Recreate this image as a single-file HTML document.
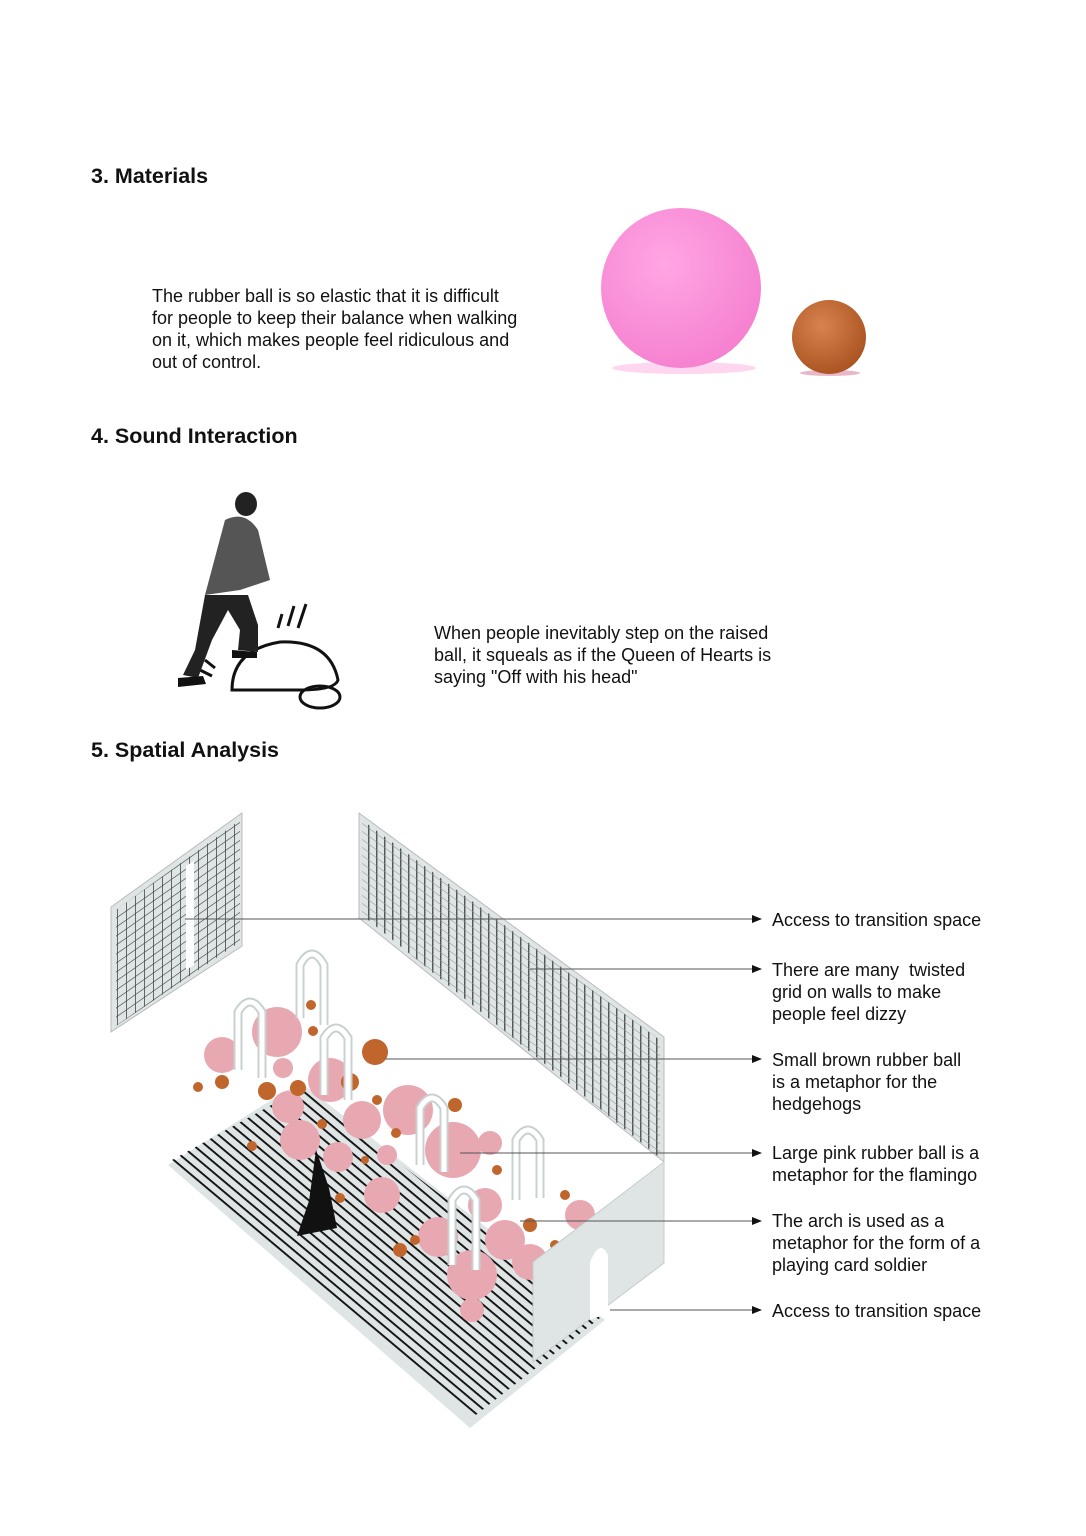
<!DOCTYPE html>
<html><head><meta charset="utf-8"><style>
body{margin:0;background:#fff;width:1086px;height:1536px;position:relative;overflow:hidden;font-family:"Liberation Sans",Arial,sans-serif;color:#111}
.h{position:absolute;left:91px;font-weight:bold;font-size:21.5px}
.p{position:absolute;font-size:18px;line-height:22px;white-space:nowrap}
</style></head><body>
<div class="h" style="top:164px">3. Materials</div>
<div class="p" style="left:152px;top:285px">The rubber ball is so elastic that it is difficult<br>for people to keep their balance when walking<br>on it, which makes people feel ridiculous and<br>out of control.</div>
<div class="h" style="top:424px">4. Sound Interaction</div>
<div class="p" style="left:434px;top:622px">When people inevitably step on the raised<br>ball, it squeals as if the Queen of Hearts is<br>saying "Off with his head"</div>
<div class="h" style="top:738px">5. Spatial Analysis</div>
<div class="p" style="left:772px;top:909px">Access to transition space</div>
<div class="p" style="left:772px;top:959px">There are many&nbsp; twisted<br>grid on walls to make<br>people feel dizzy</div>
<div class="p" style="left:772px;top:1049px">Small brown rubber ball<br>is a metaphor for the<br>hedgehogs</div>
<div class="p" style="left:772px;top:1142px">Large pink rubber ball is a<br>metaphor for the flamingo</div>
<div class="p" style="left:772px;top:1210px">The arch is used as a<br>metaphor for the form of a<br>playing card soldier</div>
<div class="p" style="left:772px;top:1300px">Access to transition space</div>
<svg width="1086" height="1536" style="position:absolute;left:0;top:0">
<defs>
<radialGradient id="pk" cx="40%" cy="35%" r="70%"><stop offset="0" stop-color="#ffa6e4"/><stop offset="1" stop-color="#f57fcf"/></radialGradient>
<radialGradient id="br" cx="40%" cy="35%" r="70%"><stop offset="0" stop-color="#d8834f"/><stop offset="1" stop-color="#a9521f"/></radialGradient>
<pattern id="st" width="8" height="8" patternUnits="userSpaceOnUse" patternTransform="rotate(40)"><rect width="8" height="1.9" fill="#111"/></pattern>
<pattern id="vl" width="8" height="8" patternUnits="userSpaceOnUse" patternTransform="skewY(36)"><rect width="1.5" height="8" fill="#333"/><rect width="8" height="0.6" fill="#777"/></pattern>
<pattern id="gr" width="9" height="9" patternUnits="userSpaceOnUse" patternTransform="skewY(-35)"><rect width="0.8" height="9" fill="#222"/><rect width="9" height="0.8" fill="#222"/></pattern>
</defs>
<ellipse cx="684" cy="368" rx="72" ry="6" fill="#ffd6ef"/>
<circle cx="681" cy="288" r="80" fill="url(#pk)"/>
<ellipse cx="830" cy="373" rx="30" ry="3" fill="#e9b8c8"/>
<circle cx="829" cy="337" r="37" fill="url(#br)"/>
<!-- person -->
<g fill="none" stroke="#111" stroke-width="3">
<path d="M232 690 Q232 650 280 642 Q330 640 338 680 Q335 690 300 690 Z"/>
<ellipse cx="320" cy="697" rx="20" ry="11"/>
<path d="M278 628 l4 -14 M288 626 l6 -20 M298 628 l8 -24"/>
<path d="M205 660 l10 8 M200 670 l12 6"/>
</g>
<ellipse cx="246" cy="504" rx="11" ry="12" fill="#222"/>
<path d="M225 520 Q245 510 258 530 L270 580 L240 590 L205 595 Z" fill="#555"/>
<path d="M205 595 L195 650 L183 675 L198 678 L212 640 L228 610 L240 630 L238 650 L258 652 L258 625 L248 595 Z" fill="#222"/>
<path d="M178 678 l25 -2 l3 8 l-28 3 z M232 650 l25 2 l0 6 l-25 0z" fill="#111"/>
<!-- left wall -->
<polygon points="111,907 242,813 242,946 111,1032" fill="#dfe5e5" stroke="#bbb"/>
<polygon points="116,910 240,820 240,942 116,1026" fill="url(#gr)" opacity=".8"/>
<polygon points="186,866 194,861 194,965 186,970" fill="#fff"/>
<!-- back wall -->
<polygon points="359,813 664,1037 664,1162 359,918" fill="#dfe5e5" stroke="#bbb"/>
<polygon points="362,820 660,1040 660,1158 362,915" fill="url(#vl)" opacity=".8"/>
<!-- floor -->
<polygon points="168,1165 300,1082 605,1320 470,1428" fill="#dfe5e5"/>
<polygon points="172,1160 302,1088 600,1318 472,1418" fill="url(#st)"/>
<!-- balls -->
<g fill="#e8a8b2">
<circle cx="277" cy="1032" r="25"/><circle cx="222" cy="1055" r="18"/><circle cx="330" cy="1080" r="22"/>
<circle cx="288" cy="1107" r="16"/><circle cx="300" cy="1140" r="20"/><circle cx="362" cy="1120" r="19"/>
<circle cx="408" cy="1110" r="25"/><circle cx="453" cy="1150" r="28"/><circle cx="338" cy="1157" r="15"/>
<circle cx="382" cy="1195" r="18"/><circle cx="490" cy="1143" r="12"/><circle cx="485" cy="1205" r="17"/>
<circle cx="438" cy="1237" r="20"/><circle cx="505" cy="1240" r="20"/><circle cx="472" cy="1275" r="25"/>
<circle cx="530" cy="1262" r="18"/><circle cx="472" cy="1310" r="12"/><circle cx="580" cy="1215" r="15"/>
<circle cx="387" cy="1155" r="10"/><circle cx="283" cy="1068" r="10"/>
</g>
<g fill="#c0662c">
<circle cx="375" cy="1052" r="13"/><circle cx="311" cy="1005" r="5"/><circle cx="313" cy="1031" r="5"/>
<circle cx="198" cy="1087" r="5"/><circle cx="222" cy="1082" r="7"/><circle cx="267" cy="1091" r="9"/>
<circle cx="298" cy="1088" r="8"/><circle cx="350" cy="1082" r="9"/><circle cx="377" cy="1100" r="5"/>
<circle cx="396" cy="1133" r="5"/><circle cx="252" cy="1146" r="5"/><circle cx="322" cy="1124" r="5"/>
<circle cx="365" cy="1160" r="4"/><circle cx="400" cy="1250" r="7"/><circle cx="530" cy="1225" r="7"/>
<circle cx="565" cy="1195" r="5"/><circle cx="455" cy="1105" r="7"/><circle cx="497" cy="1170" r="5"/>
<circle cx="340" cy="1198" r="5"/><circle cx="415" cy="1240" r="5"/><circle cx="555" cy="1245" r="5"/>
</g>
<!-- arches -->
<g fill="none" stroke="#c8d0d0" stroke-width="9">
<path d="M300 1018 V965 Q312 943 324 965 V1025"/>
<path d="M238 1070 V1012 Q250 992 262 1012 V1078"/>
<path d="M324 1095 V1038 Q336 1018 348 1038 V1100"/>
<path d="M420 1165 V1108 Q432 1088 444 1108 V1172"/>
<path d="M516 1200 V1140 Q528 1120 540 1140 V1198"/>
<path d="M452 1265 V1200 Q464 1180 476 1200 V1270"/>
</g>
<g fill="none" stroke="#fff" stroke-width="5">
<path d="M300 1018 V965 Q312 943 324 965 V1025"/>
<path d="M238 1070 V1012 Q250 992 262 1012 V1078"/>
<path d="M324 1095 V1038 Q336 1018 348 1038 V1100"/>
<path d="M420 1165 V1108 Q432 1088 444 1108 V1172"/>
<path d="M516 1200 V1140 Q528 1120 540 1140 V1198"/>
<path d="M452 1265 V1200 Q464 1180 476 1200 V1270"/>
</g>
<!-- figure -->
<path d="M316 1150 l3 8 l10 30 l8 40 l-40 8 l12 -35 z" fill="#111"/>
<!-- right wall -->
<polygon points="533,1262 664,1162 664,1263 533,1362" fill="#dfe5e5" stroke="#c4cccc"/>
<path d="M590 1320 V1262 Q600 1238 608 1255 V1313 Z" fill="#fff"/>
<!-- leaders -->
<g stroke="#555" stroke-width="1">
<line x1="185" y1="919" x2="755" y2="919"/><line x1="530" y1="969" x2="755" y2="969"/>
<line x1="385" y1="1059" x2="755" y2="1059"/><line x1="460" y1="1153" x2="755" y2="1153"/>
<line x1="520" y1="1221" x2="755" y2="1221"/><line x1="610" y1="1310" x2="755" y2="1310"/>
</g>
<g fill="#111">
<polygon points="752,915 762,919 752,923"/><polygon points="752,965 762,969 752,973"/>
<polygon points="752,1055 762,1059 752,1063"/><polygon points="752,1149 762,1153 752,1157"/>
<polygon points="752,1217 762,1221 752,1225"/><polygon points="752,1306 762,1310 752,1314"/>
</g>
</svg>
</body></html>
